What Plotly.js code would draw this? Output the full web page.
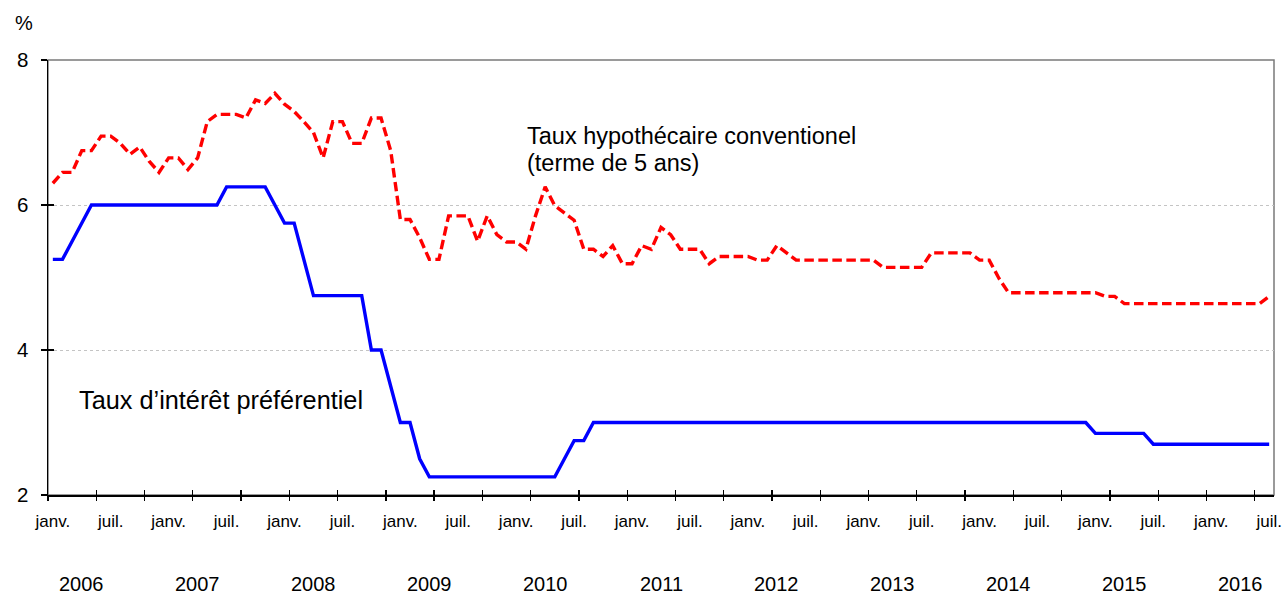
<!DOCTYPE html>
<html>
<head>
<meta charset="utf-8">
<script src="https://cdn.plot.ly/plotly-3.0.1.min.js"></script>
<style>
  html, body { margin: 0; padding: 0; background: #ffffff; }
  #chart { width: 1287px; height: 598px; }
</style>
</head>
<body>
<div id="chart"></div>
<script>
// ---- Data (monthly, janv. 2006 – juil. 2016) ----
const years = [2006, 2007, 2008, 2009, 2010, 2011, 2012, 2013, 2014, 2015, 2016];
const halfYearLabels = ['janv.', 'juil.'];

// Taux d’intérêt préférentiel (%)
const primeRate = [
  5.25, 5.25, 5.50, 5.75, 6.00, 6.00, 6.00, 6.00, 6.00, 6.00, 6.00, 6.00,
  6.00, 6.00, 6.00, 6.00, 6.00, 6.00, 6.25, 6.25, 6.25, 6.25, 6.25, 6.00,
  5.75, 5.75, 5.25, 4.75, 4.75, 4.75, 4.75, 4.75, 4.75, 4.00, 4.00, 3.50,
  3.00, 3.00, 2.50, 2.25, 2.25, 2.25, 2.25, 2.25, 2.25, 2.25, 2.25, 2.25,
  2.25, 2.25, 2.25, 2.25, 2.25, 2.50, 2.75, 2.75, 3.00, 3.00, 3.00, 3.00,
  3.00, 3.00, 3.00, 3.00, 3.00, 3.00, 3.00, 3.00, 3.00, 3.00, 3.00, 3.00,
  3.00, 3.00, 3.00, 3.00, 3.00, 3.00, 3.00, 3.00, 3.00, 3.00, 3.00, 3.00,
  3.00, 3.00, 3.00, 3.00, 3.00, 3.00, 3.00, 3.00, 3.00, 3.00, 3.00, 3.00,
  3.00, 3.00, 3.00, 3.00, 3.00, 3.00, 3.00, 3.00, 3.00, 3.00, 3.00, 3.00,
  2.85, 2.85, 2.85, 2.85, 2.85, 2.85, 2.70, 2.70, 2.70, 2.70, 2.70, 2.70,
  2.70, 2.70, 2.70, 2.70, 2.70, 2.70, 2.70
];

// Taux hypothécaire conventionnel, terme de 5 ans (%)
const mortgageRate = [
  6.30, 6.45, 6.45, 6.75, 6.75, 6.95, 6.95, 6.85, 6.70, 6.80, 6.60, 6.45,
  6.65, 6.65, 6.49, 6.65, 7.15, 7.25, 7.25, 7.25, 7.20, 7.45, 7.40, 7.54,
  7.39, 7.29, 7.15, 7.00, 6.65, 7.15, 7.15, 6.85, 6.85, 7.20, 7.20, 6.75,
  5.80, 5.80, 5.55, 5.25, 5.25, 5.85, 5.85, 5.85, 5.50, 5.85, 5.59, 5.49,
  5.49, 5.39, 5.85, 6.25, 5.99, 5.89, 5.79, 5.39, 5.39, 5.29, 5.44, 5.19,
  5.19, 5.44, 5.39, 5.69, 5.59, 5.39, 5.39, 5.39, 5.19, 5.29, 5.29, 5.29,
  5.29, 5.24, 5.24, 5.44, 5.34, 5.24, 5.24, 5.24, 5.24, 5.24, 5.24, 5.24,
  5.24, 5.24, 5.14, 5.14, 5.14, 5.14, 5.14, 5.34, 5.34, 5.34, 5.34, 5.34,
  5.24, 5.24, 4.99, 4.79, 4.79, 4.79, 4.79, 4.79, 4.79, 4.79, 4.79, 4.79,
  4.79, 4.74, 4.74, 4.64, 4.64, 4.64, 4.64, 4.64, 4.64, 4.64, 4.64, 4.64,
  4.64, 4.64, 4.64, 4.64, 4.64, 4.64, 4.74
];

const yTickValues = [2, 4, 6, 8];
const mortgageLabel = ['Taux hypothécaire conventionel', '(terme de 5 ans)'];
const primeLabel = 'Taux d’intérêt préférentiel';
const unitLabel = '%';

// ---- Build ----
const n = primeRate.length;
const monthIndex = primeRate.map((_, i) => i);

const labelVals = [], labelText = [];
for (let i = 0; i < n; i += 6) { labelVals.push(i); labelText.push(halfYearLabels[(i / 6) % 2]); }

const tickVals = [];
for (let v = -0.5; v <= n - 0.5 + 1e-9; v += 5) tickVals.push(v);

const FONT = 'Liberation Sans, Arial, Helvetica, sans-serif';
const xRange = [-0.5, n - 0.5];
const yRange = [2, 8];

const traces = [
  {
    x: monthIndex, y: mortgageRate, type: 'scatter', mode: 'lines',
    line: { color: '#FF0000', width: 3.4, dash: '9.5px,4.5px' },
    xaxis: 'x', yaxis: 'y', hoverinfo: 'skip', showlegend: false
  },
  {
    x: monthIndex, y: primeRate, type: 'scatter', mode: 'lines',
    line: { color: '#0000FF', width: 3.4 },
    xaxis: 'x2', yaxis: 'y2', hoverinfo: 'skip', showlegend: false
  },
  {
    x: [], y: [], type: 'scatter', mode: 'lines',
    xaxis: 'x3', yaxis: 'y2', hoverinfo: 'skip', showlegend: false
  }
];

const baseX = { range: xRange, fixedrange: true, showgrid: false, zeroline: false };

const annotations = [
  { text: unitLabel, xref: 'paper', yref: 'paper', x: -0.0195, y: 1.086,
    xanchor: 'center', yanchor: 'middle', showarrow: false, font: { family: FONT, size: 20, color: '#000' } },
  { text: mortgageLabel[0], xref: 'paper', yref: 'paper', x: 0.389, y: 0.8248,
    xanchor: 'left', yanchor: 'middle', showarrow: false, font: { family: FONT, size: 23.5, color: '#000' } },
  { text: mortgageLabel[1], xref: 'paper', yref: 'paper', x: 0.389, y: 0.7621,
    xanchor: 'left', yanchor: 'middle', showarrow: false, font: { family: FONT, size: 23.5, color: '#000' } },
  { text: primeLabel, xref: 'paper', yref: 'paper', x: 0.0235, y: 0.2189,
    xanchor: 'left', yanchor: 'middle', showarrow: false, font: { family: FONT, size: 25.3, color: '#000' } }
];
years.forEach((yr, k) => {
  annotations.push({
    text: String(yr), xref: 'x', yref: 'paper', x: k * 12 + 3, y: -0.2035,
    xanchor: 'center', yanchor: 'middle', showarrow: false,
    font: { family: FONT, size: 20, color: '#000' }
  });
});

const layout = {
  width: 1287, height: 598,
  margin: { l: 48, r: 13, t: 60, b: 103, pad: 0 },
  paper_bgcolor: '#ffffff', plot_bgcolor: '#ffffff',
  font: { family: FONT, color: '#000' },
  showlegend: false,
  xaxis: Object.assign({}, baseX, {
    tickmode: 'array', tickvals: labelVals, ticktext: labelText, ticks: '',
    showline: true, linecolor: '#000', linewidth: 1.5,
    tickfont: { family: FONT, size: 17, color: '#000' }, ticklabelstandoff: 10
  }),
  xaxis2: Object.assign({}, baseX, {
    overlaying: 'x', anchor: 'y2', tickmode: 'array', tickvals: tickVals,
    ticks: 'outside', ticklen: 5, tickwidth: 1.3, tickcolor: '#000',
    showticklabels: false, showline: false
  }),
  xaxis3: Object.assign({}, baseX, {
    overlaying: 'x', anchor: 'y2', tickmode: 'array', tickvals: tickVals,
    ticks: 'inside', ticklen: 5, tickwidth: 1.3, tickcolor: '#000',
    showticklabels: false, showline: false
  }),
  yaxis: {
    range: yRange, fixedrange: true, tickmode: 'array', tickvals: yTickValues,
    ticks: 'outside', ticklen: 6, tickwidth: 1.3, tickcolor: '#000',
    showgrid: true, gridcolor: '#c4c4c4', griddash: 'dot', gridwidth: 1,
    zeroline: false, showline: true, linecolor: '#000', linewidth: 1.5,
    tickfont: { family: FONT, size: 20.5, color: '#000' }, ticklabelstandoff: 8
  },
  yaxis2: {
    range: yRange, fixedrange: true, overlaying: 'y', anchor: 'x2',
    tickmode: 'array', tickvals: yTickValues,
    ticks: 'inside', ticklen: 6, tickwidth: 1.3, tickcolor: '#000',
    showticklabels: false, showgrid: false, zeroline: false, showline: false
  },
  shapes: [
    { type: 'rect', xref: 'paper', yref: 'paper', x0: 0, x1: 1, y0: 0, y1: 1,
      line: { color: '#7a7a7a', width: 1.5 }, layer: 'below' }
  ],
  annotations: annotations
};

Plotly.newPlot('chart', traces, layout, { staticPlot: true, displayModeBar: false });
</script>
</body>
</html>
